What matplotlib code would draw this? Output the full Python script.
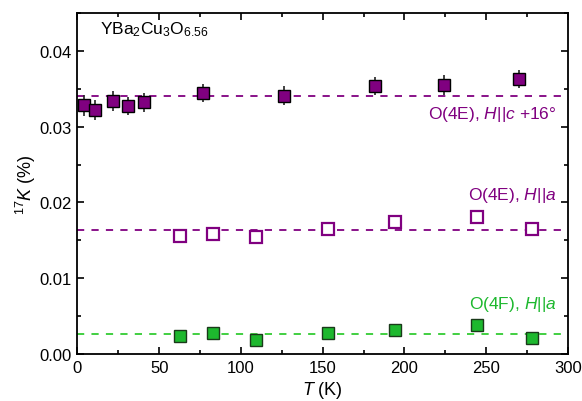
import matplotlib
matplotlib.use("Agg")
import matplotlib.pyplot as plt
from matplotlib.ticker import MultipleLocator

plt.rcParams["font.family"] = ["Liberation Sans", "DejaVu Sans"]
plt.rcParams["mathtext.fontset"] = "custom"
plt.rcParams["mathtext.rm"] = "Liberation Sans"
plt.rcParams["mathtext.it"] = "Liberation Sans:italic"
plt.rcParams["mathtext.bf"] = "Liberation Sans:bold"

# O(4E), H||c +16deg
t_c = [4, 11, 22, 31, 41, 76.5, 126.5, 182, 224, 270]
k_c = [0.0328, 0.0322, 0.0334, 0.0327, 0.0332, 0.0345, 0.0341, 0.0354, 0.0355, 0.0363]
err_c = [0.0014, 0.0013, 0.0013, 0.0012, 0.0013, 0.0012, 0.0013, 0.0012, 0.0013, 0.0012]
avg_c = 0.0340

# O(4E), H||a
t_a = [62.5, 83, 109, 153, 194.5, 244.5, 278]
k_a = [0.0156, 0.0158, 0.0154, 0.0165, 0.0174, 0.0181, 0.0165]
avg_a = 0.0164

# O(4F), H||a
t_f = [62.5, 83, 109, 153, 194.5, 244.5, 278]
k_f = [0.0024, 0.0028, 0.0018, 0.0028, 0.0031, 0.0038, 0.0021]
avg_f = 0.0026

purple = "#800080"
green = "#1DB82E"
green_line = "#33CC33"

fig = plt.figure(figsize=(5.82, 4.02), dpi=100)
ax = fig.add_axes([0.133, 0.117, 0.843, 0.848])

ax.axhline(avg_c, color=purple, ls=(0, (4, 4)), lw=1.3, zorder=1)
ax.axhline(avg_a, color=purple, ls=(0, (4, 4)), lw=1.3, zorder=1)
ax.axhline(avg_f, color=green_line, ls=(0, (4, 4)), lw=1.3, zorder=1)

ax.errorbar(t_c, k_c, yerr=err_c, fmt="s", ms=8.5, mfc=purple, mec="black",
            mew=1.0, ecolor="#222222", elinewidth=1.2, capsize=0, zorder=3)
ax.plot(t_a, k_a, "s", ms=8, mfc="white", mec=purple, mew=1.6, zorder=3)
ax.plot(t_f, k_f, "s", ms=8.5, mfc=green, mec="#1a3a1a", mew=1.0, zorder=3)

ax.text(14, 0.0429, "YBa$_2$Cu$_3$O$_{6.56}$", fontsize=12.5, va="center", ha="left")
ax.text(293, 0.0317, "O(4E), $H||c$ +16°", fontsize=12.5, color=purple, va="center", ha="right")
ax.text(293, 0.0211, "O(4E), $H||a$", fontsize=12.5, color=purple, va="center", ha="right")
ax.text(293, 0.0067, "O(4F), $H||a$", fontsize=12.5, color=green, va="center", ha="right")

ax.set_xlim(0, 300)
ax.set_ylim(0, 0.045)
ax.xaxis.set_major_locator(MultipleLocator(50))
ax.xaxis.set_minor_locator(MultipleLocator(25))
ax.yaxis.set_major_locator(MultipleLocator(0.01))
ax.yaxis.set_minor_locator(MultipleLocator(0.005))
ax.yaxis.set_major_formatter(matplotlib.ticker.FormatStrFormatter("%.2f"))
ax.tick_params(which="both", direction="in", top=True, right=True, labelsize=12, width=1.2)
ax.tick_params(which="major", length=5, pad=4)
ax.tick_params(which="minor", length=3)
for s in ax.spines.values():
    s.set_linewidth(1.3)

ax.set_xlabel("$T$ (K)", fontsize=13, labelpad=3)
ax.set_ylabel("$^{17}K$ (%)", fontsize=13, labelpad=1)

fig.savefig("out.png", dpi=100)
